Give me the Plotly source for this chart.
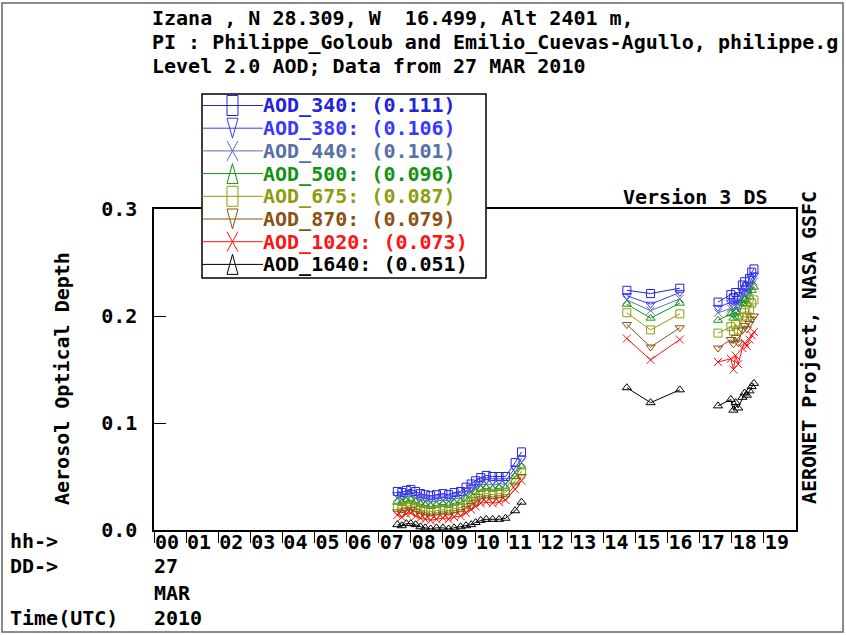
import plotly.graph_objects as go

# ---------------- data ----------------
hours = [7.58, 7.72, 7.86, 8.00, 8.15, 8.30, 8.45, 8.62, 8.80, 9.00, 9.18, 9.35,
         9.55, 9.72, 9.88, 10.02, 10.18, 10.35, 10.55, 10.75, 10.95, 11.25, 11.45,
         None,
         14.73, 15.47, 16.38,
         None,
         17.57, 17.97, 18.05, 18.12, 18.20, 18.33, 18.40, 18.47, 18.55, 18.62, 18.69]

aod_340 = [0.036, 0.035, 0.037, 0.038, 0.036, 0.034, 0.033, 0.032, 0.033, 0.034, 0.033, 0.035,
           0.036, 0.040, 0.043, 0.046, 0.049, 0.051, 0.050, 0.050, 0.050, 0.063, 0.073,
           None, 0.224, 0.221, 0.226, None,
           0.213, 0.220, 0.217, 0.222, 0.218, 0.229, 0.232, 0.228, 0.235, 0.241, 0.244]
aod_380 = [0.033, 0.032, 0.034, 0.035, 0.033, 0.031, 0.030, 0.029, 0.030, 0.031, 0.030, 0.032,
           0.033, 0.037, 0.040, 0.043, 0.046, 0.047, 0.046, 0.046, 0.046, 0.058, 0.067,
           None, 0.219, 0.211, 0.222, None,
           0.208, 0.213, 0.210, 0.214, 0.211, 0.223, 0.226, 0.222, 0.229, 0.235, 0.238]
aod_440 = [0.030, 0.029, 0.031, 0.032, 0.030, 0.028, 0.027, 0.026, 0.027, 0.028, 0.027, 0.029,
           0.030, 0.033, 0.036, 0.039, 0.042, 0.043, 0.042, 0.043, 0.043, 0.054, 0.063,
           None, 0.215, 0.205, 0.216, None,
           0.203, 0.207, 0.204, 0.209, 0.205, 0.217, 0.220, 0.216, 0.223, 0.229, 0.232]
aod_500 = [0.026, 0.025, 0.027, 0.028, 0.026, 0.024, 0.023, 0.022, 0.023, 0.024, 0.023, 0.025,
           0.026, 0.029, 0.032, 0.035, 0.038, 0.039, 0.038, 0.039, 0.039, 0.050, 0.059,
           None, 0.211, 0.198, 0.212, None,
           0.196, 0.202, 0.198, 0.204, 0.199, 0.212, 0.215, 0.211, 0.218, 0.224, 0.227]
aod_675 = [0.021, 0.020, 0.022, 0.023, 0.021, 0.019, 0.018, 0.017, 0.018, 0.019, 0.018, 0.020,
           0.021, 0.024, 0.027, 0.030, 0.033, 0.034, 0.033, 0.034, 0.035, 0.046, 0.055,
           None, 0.203, 0.187, 0.202, None,
           0.184, 0.190, 0.186, 0.192, 0.187, 0.199, 0.203, 0.200, 0.206, 0.212, 0.215]
aod_870 = [0.017, 0.016, 0.018, 0.019, 0.017, 0.015, 0.014, 0.013, 0.014, 0.015, 0.014, 0.016,
           0.017, 0.020, 0.023, 0.026, 0.029, 0.030, 0.029, 0.030, 0.031, 0.042, 0.050,
           None, 0.192, 0.171, 0.189, None,
           0.170, 0.178, 0.174, 0.180, 0.175, 0.187, 0.191, 0.188, 0.193, 0.197, 0.200]
aod_1020 = [0.014, 0.012, 0.015, 0.016, 0.013, 0.011, 0.010, 0.009, 0.010, 0.011, 0.010, 0.012,
            0.013, 0.016, 0.019, 0.022, 0.025, 0.026, 0.025, 0.026, 0.028, 0.038, 0.046,
            None, 0.179, 0.159, 0.178, None,
            0.157, 0.160, 0.150, 0.163, 0.155, 0.170, 0.175, 0.172, 0.178, 0.182, 0.185]
aod_1640 = [0.005, 0.004, 0.006, 0.006, 0.005, 0.003, 0.002, 0.001, 0.002, 0.002, 0.001, 0.002,
            0.003, 0.004, 0.005, 0.007, 0.009, 0.010, 0.010, 0.010, 0.011, 0.018, 0.026,
            None, 0.133, 0.119, 0.131, None,
            0.116, 0.122, 0.112, 0.119, 0.114, 0.124, 0.128, 0.126, 0.130, 0.134, 0.137]

series_names = ["AOD_340", "AOD_380", "AOD_440", "AOD_500", "AOD_675", "AOD_870", "AOD_1020", "AOD_1640"]
series_means = ["0.111", "0.106", "0.101", "0.096", "0.087", "0.079", "0.073", "0.051"]
series_values = [aod_340, aod_380, aod_440, aod_500, aod_675, aod_870, aod_1020, aod_1640]

hour_ticks = list(range(0, 20))
hour_labels = ["%02d" % h for h in hour_ticks]
y_ticks = [0.0, 0.1, 0.2, 0.3]
y_labels = ["0.0", "0.1", "0.2", "0.3"]

# ---------------- styles ----------------
colors = ["#2323d8", "#3a3aff", "#5670a8", "#129412", "#909c10", "#8c5212", "#ff1414", "#000000"]
symbols = ["square-open", "triangle-down-open", "x-thin-open", "triangle-up-open",
           "square-open", "triangle-down-open", "x-thin-open", "triangle-up-open"]
glyphs = ["square", "tri-down", "x", "tri-up", "square", "tri-down", "x", "tri-up"]

FONT = "DejaVu Sans Mono"
W, H = 846, 635
L, R, T, B = 154, 796, 209, 530
PW, PH = R - L, B - T


def px(x):
    return (x - L) / PW


def py(y):
    return (B - y) / PH


fig = go.Figure()
for name, vals, col, sym in zip(series_names, series_values, colors, symbols):
    fig.add_trace(go.Scatter(
        x=hours, y=vals, mode="lines+markers", name=name, showlegend=False,
        line=dict(color=col, width=1),
        marker=dict(symbol=sym, size=8, color=col, line=dict(color=col, width=1)),
        connectgaps=False,
    ))

fig.update_layout(
    width=W, height=H,
    margin=dict(l=L, r=W - R, t=T, b=H - B, pad=0),
    paper_bgcolor="white", plot_bgcolor="white",
    font=dict(family=FONT, size=20, color="black", weight="bold"),
    showlegend=False,
    xaxis=dict(
        range=[0, 20], tickvals=hour_ticks, ticktext=hour_labels,
        showgrid=False, zeroline=False,
        showline=True, linecolor="black", linewidth=1.5, mirror=True,
        ticks="outside", ticklen=11, tickwidth=1.2, tickcolor="black",
        ticklabelshift=13, ticklabelstandoff=-18,
        tickfont=dict(family=FONT, size=20, weight="bold"),
    ),
    yaxis=dict(
        range=[0, 0.3], tickvals=y_ticks, ticktext=y_labels,
        showgrid=False, zeroline=False,
        showline=True, linecolor="black", linewidth=1.5, mirror=True,
        ticks="inside", ticklen=12, tickwidth=1.2, tickcolor="black",
        ticklabelstandoff=11,
        tickfont=dict(family=FONT, size=20, weight="bold"),
    ),
)

ann = []
shapes = []


def text(s, x, y, xanchor="left", angle=0, color="black"):
    ann.append(dict(text=s, x=px(x), y=py(y), xref="paper", yref="paper",
                    xanchor=xanchor, yanchor="middle", showarrow=False,
                    textangle=angle, font=dict(family=FONT, size=20, color=color, weight="bold")))


text("Izana , N 28.309, W  16.499, Alt 2401 m,", 150, 18)
text("PI : Philippe_Goloub and Emilio_Cuevas-Agullo, philippe.g", 150, 42)
text("Level 2.0 AOD; Data from 27 MAR 2010", 150, 66)
text("Version 3 DS", 770, 197, xanchor="right")
text("Aerosol Optical Depth", 62, 379, xanchor="center", angle=-90)
text("AERONET Project, NASA GSFC", 809, 348, xanchor="center", angle=-90)
text("hh->", 8, 541)
text("DD->", 8, 566)
text("27", 152, 566)
text("MAR", 152, 593)
text("Time(UTC)", 8, 618)
text("2010", 152, 618)

# outer frame
shapes.append(dict(type="rect", xref="paper", yref="paper",
                   x0=px(2), x1=px(843), y0=py(632), y1=py(3),
                   line=dict(color="#666666", width=1.5), layer="below"))

# legend box (drawn by hand so its size matches)
LX0, LX1, LY0, LY1 = 202, 486, 94, 278
shapes.append(dict(type="rect", xref="paper", yref="paper",
                   x0=px(LX0), x1=px(LX1), y0=py(LY1), y1=py(LY0),
                   fillcolor="white", line=dict(color="black", width=1.5), layer="above"))
MX, MW, MH = 232.5, 5.5, 10
for i, (name, mean, col, g) in enumerate(zip(series_names, series_means, colors, glyphs)):
    ry = 105.5 + 22.7 * i
    shapes.append(dict(type="line", xref="paper", yref="paper",
                       x0=px(LX0), x1=px(263), y0=py(ry), y1=py(ry),
                       line=dict(color=col, width=1), layer="above"))
    if g == "square":
        path = "M %f,%f L %f,%f L %f,%f L %f,%f Z" % (
            px(MX - MW), py(ry - MH), px(MX + MW), py(ry - MH),
            px(MX + MW), py(ry + MH), px(MX - MW), py(ry + MH))
    elif g == "tri-down":
        path = "M %f,%f L %f,%f L %f,%f Z" % (
            px(MX - MW), py(ry - MH), px(MX + MW), py(ry - MH), px(MX), py(ry + MH))
    elif g == "tri-up":
        path = "M %f,%f L %f,%f L %f,%f Z" % (
            px(MX - MW), py(ry + MH), px(MX + MW), py(ry + MH), px(MX), py(ry - MH))
    else:
        path = "M %f,%f L %f,%f M %f,%f L %f,%f" % (
            px(MX - MW), py(ry - MH), px(MX + MW), py(ry + MH),
            px(MX + MW), py(ry - MH), px(MX - MW), py(ry + MH))
    shapes.append(dict(type="path", xref="paper", yref="paper", path=path,
                       line=dict(color=col, width=1), layer="above"))
    text("%s: (%s)" % (name, mean), 261, ry, color=col)

fig.update_layout(annotations=ann, shapes=shapes)

fig.write_html("out.html", config={"displayModeBar": False},
               post_script="document.body.style.margin='0px';")
